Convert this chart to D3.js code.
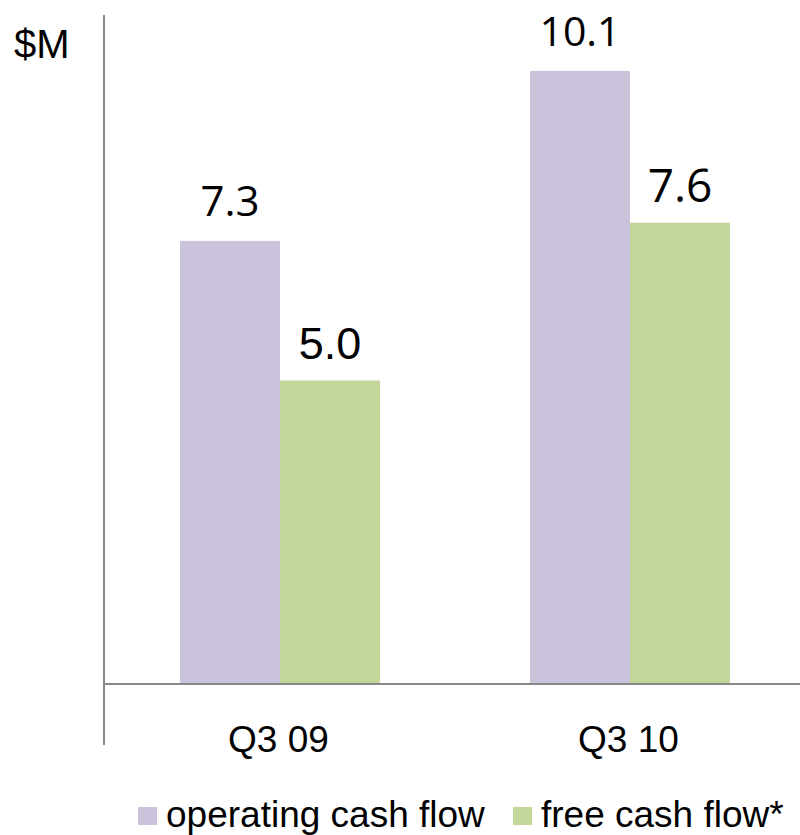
<!DOCTYPE html>
<html>
<head>
<meta charset="utf-8">
<script src="https://cdn.jsdelivr.net/npm/d3@7"></script>
<style>
  html, body { margin: 0; padding: 0; background: #fff; }
  svg { display: block; }
</style>
</head>
<body>
<svg id="chart" width="800" height="835"></svg>
<script>
// Quarterly cash flow, $M
const categories = ["Q3 09", "Q3 10"];
const seriesNames = ["operating cash flow", "free cash flow*"];
const operatingCashFlow = [7.3, 10.1];
const freeCashFlow = [5.0, 7.6];
const unitLabel = "$M";

const seriesColors = ["#cbc3dc", "#c4d79b"];
const axisColor = "#888888";

const svg = d3.select("#chart");
const W = 800, H = 835;
const baseY = 684;
const axisX = 104;

const y = d3.scaleLinear().domain([0, 11]).range([baseY, baseY - 60.7 * 11]);

const x0 = d3.scaleBand()
  .domain(categories)
  .range([105, 805])
  .paddingInner(150 / 350)
  .paddingOuter(75 / 350);

const x1 = d3.scaleBand()
  .domain(seriesNames)
  .range([0, x0.bandwidth()]);

const rows = categories.map((c, i) => ({
  category: c,
  values: [
    { series: seriesNames[0], value: operatingCashFlow[i] },
    { series: seriesNames[1], value: freeCashFlow[i] }
  ]
}));

// Bars
const groups = svg.append("g").selectAll("g")
  .data(rows)
  .join("g")
  .attr("transform", d => `translate(${x0(d.category)},0)`);

groups.selectAll("rect")
  .data(d => d.values)
  .join("rect")
  .attr("x", d => x1(d.series))
  .attr("y", d => y(d.value))
  .attr("width", x1.bandwidth())
  .attr("height", d => y(0) - y(d.value))
  .attr("fill", (d, i) => seriesColors[i]);

// Value labels (font varies per label, as in the source slide)
const labelStyle = {
  "Q3 09|operating cash flow": { family: "'Open Sans', sans-serif", size: 42, gap: 25 },
  "Q3 09|free cash flow*": { family: "'Liberation Sans', Arial, sans-serif", size: 45, gap: 22 },
  "Q3 10|operating cash flow": { family: "'Open Sans', sans-serif", size: 41, gap: 25 },
  "Q3 10|free cash flow*": { family: "'Open Sans', sans-serif", size: 46, gap: 21 }
};

groups.each(function (row) {
  d3.select(this).selectAll("text.value")
    .data(row.values)
    .join("text")
    .attr("class", "value")
    .each(function (d) {
      const st = labelStyle[row.category + "|" + d.series];
      d3.select(this)
        .attr("x", x1(d.series) + x1.bandwidth() / 2)
        .attr("y", y(d.value) - st.gap)
        .attr("text-anchor", "middle")
        .attr("font-family", st.family)
        .attr("font-size", st.size)
        .attr("fill", "#000")
        .text(d.value.toFixed(1));
    });
});

// Axes lines
svg.append("line")
  .attr("x1", axisX).attr("x2", axisX)
  .attr("y1", 15).attr("y2", 745)
  .attr("stroke", axisColor).attr("stroke-width", 2);

svg.append("line")
  .attr("x1", axisX - 1).attr("x2", W)
  .attr("y1", baseY).attr("y2", baseY)
  .attr("stroke", axisColor).attr("stroke-width", 2);

// Category labels
svg.append("g").selectAll("text")
  .data(categories)
  .join("text")
  .attr("x", d => x0(d) + x0.bandwidth() / 2 - 1.5)
  .attr("y", 752)
  .attr("text-anchor", "middle")
  .attr("font-family", "'Liberation Sans', Arial, sans-serif")
  .attr("font-size", 37)
  .attr("fill", "#000")
  .text(d => d);

// Unit label
svg.append("text")
  .attr("x", 14)
  .attr("y", 58)
  .attr("font-family", "'Liberation Sans', Arial, sans-serif")
  .attr("font-size", 40)
  .attr("fill", "#000")
  .text(unitLabel);

// Legend
const legendX = [138, 513];
const legend = svg.append("g").selectAll("g")
  .data(seriesNames)
  .join("g")
  .attr("transform", (d, i) => `translate(${legendX[i]},0)`);

legend.append("rect")
  .attr("x", 0).attr("y", 807)
  .attr("width", 19).attr("height", 18)
  .attr("fill", (d, i) => seriesColors[i]);

legend.append("text")
  .attr("x", 28)
  .attr("y", 827)
  .attr("font-family", "'Liberation Sans', Arial, sans-serif")
  .attr("font-size", 37)
  .attr("fill", "#000")
  .text(d => d);
</script>
</body>
</html>
